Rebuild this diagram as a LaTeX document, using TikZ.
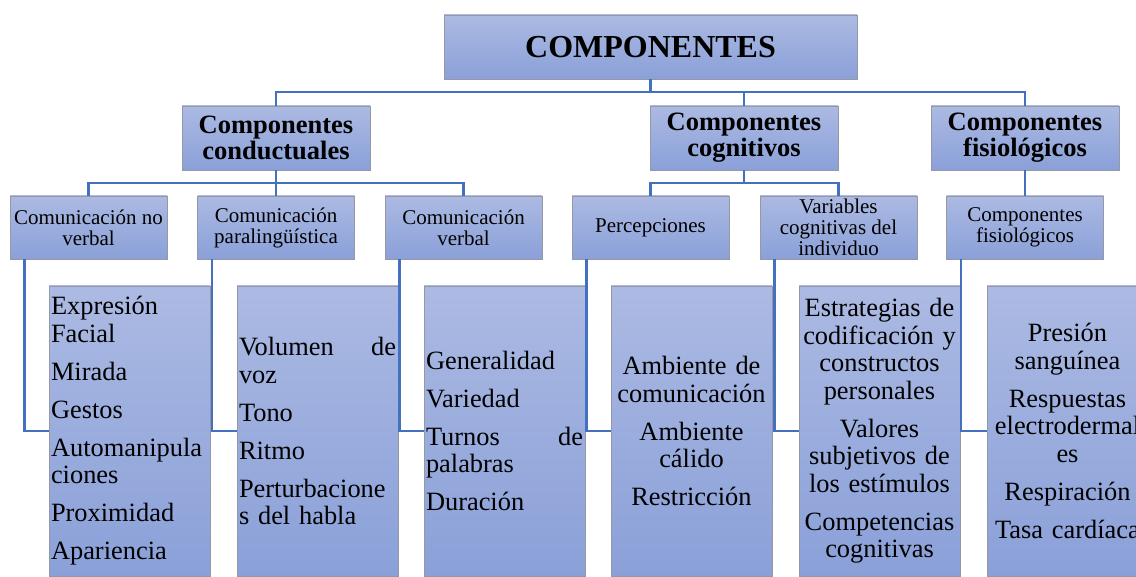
\documentclass[tikz,border=0pt]{standalone}
\usepackage{fontspec}
\setmainfont{Liberation Serif}
\definecolor{ctop}{RGB}{172,186,227}
\definecolor{cbot}{RGB}{138,160,216}
\definecolor{boxgray}{RGB}{150,152,165}
\definecolor{linkblue}{RGB}{68,112,192}
\newcommand{\fullline}[2]{\leavevmode\hbox to 157pt{#1\hfill #2}}
\begin{document}
\begin{tikzpicture}[x=1pt,y=-1pt,
  box/.style={draw=boxgray, line width=0.8pt, top color=ctop, bottom color=cbot, inner sep=0pt, rectangle},
  topbox/.style={box, minimum width=413pt, minimum height=64pt, font=\bfseries\fontsize{32}{34}\selectfont},
  lvltwo/.style={box, minimum width=188pt, minimum height=64pt, align=center, font=\bfseries\fontsize{26.5}{26}\selectfont},
  lvlthree/.style={box, minimum width=157pt, minimum height=63pt, align=center, font=\fontsize{21}{21}\selectfont},
  lvlfour/.style={box, minimum width=161pt, minimum height=290pt, text width=157pt, font=\fontsize{26.4}{27.5}\selectfont},
  link/.style={draw=linkblue, line width=2.3pt}]
\useasboundingbox (0,0) rectangle (1136,577);
\fill[white] (0,0) rectangle (1136,577);

\coordinate (busa) at (0,92);
\coordinate (busb) at (0,183);

% nodes
\node[topbox] (top) at (650.5,47) {COMPONENTES};

\node[lvltwo] (cond) at (276,138) {Componentes\\conductuales};
\node[lvltwo] (cogn) at (744,138) {Componentes\\cognitivos};
\node[lvltwo] (fisi) at (1025,138) {Componentes\\fisiológicos};

\node[lvlthree] (cnv) at (88.5,227.5) {Comunicación no\\verbal};
\node[lvlthree] (cpl) at (276,227.5) {Comunicación\\paralingüística};
\node[lvlthree] (cve) at (463.5,227.5) {Comunicación\\verbal};
\node[lvlthree] (per) at (650.5,227.5) {Percepciones};
\node[lvlthree] (var) at (838.5,227.5) {Variables\\cognitivas del\\individuo};
\node[lvlthree] (cfs) at (1025,227.5) {Componentes\\fisiológicos};

\node[lvlfour, align=left] (la) at (129.5,431) {Expresión\\Facial\\[10.5pt]Mirada\\[10.5pt]Gestos\\[10.5pt]Automanipula\\ciones\\[10.5pt]Proximidad\\[10.5pt]Apariencia};
\node[lvlfour, align=left] (lb) at (317.5,431) {\fullline{Volumen}{de}\\voz\\[10.5pt]Tono\\[10.5pt]Ritmo\\[10.5pt]Perturbacione\\s del habla};
\node[lvlfour, align=left] (lc) at (504.5,431) {Generalidad\\[10.5pt]Variedad\\[10.5pt]\fullline{Turnos}{de}\\palabras\\[10.5pt]Duración};
\node[lvlfour, align=center] (ld) at (691.5,431) {Ambiente de\\comunicación\\[10.5pt]Ambiente\\cálido\\[10.5pt]Restricción};
\node[lvlfour, align=center] (le) at (879.5,431) {Estrategias de\\codificación y\\constructos\\personales\\[10.5pt]Valores\\subjetivos de\\los estímulos\\[10.5pt]Competencias\\cognitivas};
\node[lvlfour, align=center] (lf) at (1067.5,431) {Presión\\sanguínea\\[10.5pt]Respuestas\\electrodermal\\es\\[10.5pt]Respiración\\[10.5pt]Tasa cardíaca};

% connectors
\draw[link] (top.south) -- (top.south |- busa);
\draw[link] (cond.north) -- (cond.north |- busa) -| (fisi.north);
\draw[link] (cogn.north) -- (cogn.north |- busa);

\draw[link] (cond.south) -- (cpl.north);
\draw[link] (cnv.north) -- (cnv.north |- busb) -| (cve.north);
\draw[link] (cogn.south) -- (cogn.south |- busb);
\draw[link] (per.north) -- (per.north |- busb) -| (var.north);
\draw[link] (fisi.south) -- (cfs.north);

\draw[link] ([xshift=15pt]cnv.south west) |- (la.west);
\draw[link] ([xshift=15pt]cpl.south west) |- (lb.west);
\draw[link] ([xshift=15pt]cve.south west) |- (lc.west);
\draw[link] ([xshift=15pt]per.south west) |- (ld.west);
\draw[link] ([xshift=15pt]var.south west) |- (le.west);
\draw[link] ([xshift=15pt]cfs.south west) |- (lf.west);
\end{tikzpicture}
\end{document}
